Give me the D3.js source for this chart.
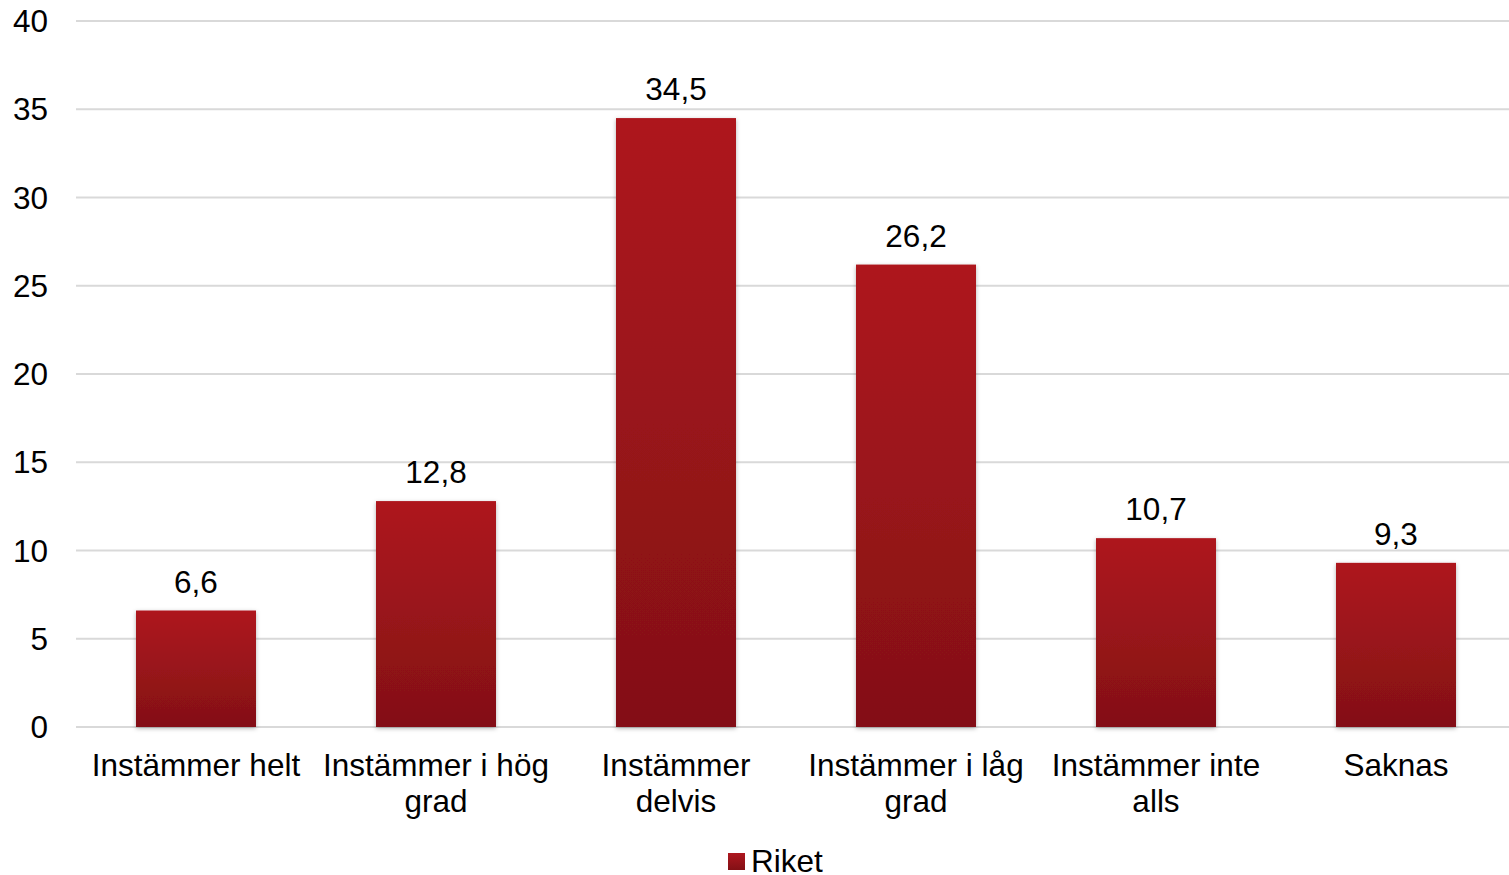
<!DOCTYPE html>
<html>
<head>
<meta charset="utf-8">
<script src="https://cdn.jsdelivr.net/npm/d3@7"></script>
<style>
  body { margin: 0; background: #fff; }
  text { font-family: "Liberation Sans", Arial, sans-serif; fill: #000; }
</style>
</head>
<body>
<svg id="chart"></svg>
<script>
var categories = [["Instämmer helt"], ["Instämmer i hög", "grad"], ["Instämmer", "delvis"], ["Instämmer i låg", "grad"], ["Instämmer inte", "alls"], ["Saknas"]];
var values = [6.6, 12.8, 34.5, 26.2, 10.7, 9.3];
var yTicks = [0, 5, 10, 15, 20, 25, 30, 35, 40];
var seriesName = "Riket";

var width = 1509, height = 875;
var plotLeft = 76, plotRight = 1516, plotTop = 21, plotBottom = 727;
var fs = 31.5;

var svg = d3.select("#chart").attr("width", width).attr("height", height);

var defs = svg.append("defs");
var grad = defs.append("linearGradient").attr("id", "barGrad")
    .attr("x1", 0).attr("y1", 0).attr("x2", 0).attr("y2", 1);
grad.append("stop").attr("offset", "0%").attr("stop-color", "#ae171f");
grad.append("stop").attr("offset", "100%").attr("stop-color", "#831015");

var shadow = defs.append("filter").attr("id", "shadow")
    .attr("x", "-10%").attr("y", "-10%").attr("width", "120%").attr("height", "120%");
shadow.append("feDropShadow").attr("dx", 0).attr("dy", 1.5).attr("stdDeviation", 2)
    .attr("flood-color", "#000").attr("flood-opacity", 0.3);

var x = d3.scaleBand().domain(d3.range(values.length)).range([plotLeft, plotRight]).paddingInner(0.5).paddingOuter(0.25);
var y = d3.scaleLinear().domain([0, 40]).range([plotBottom, plotTop]);

// gridlines
svg.append("g").selectAll("line")
    .data(yTicks)
  .enter().append("line")
    .attr("x1", plotLeft).attr("x2", width)
    .attr("y1", function(d) { return y(d); })
    .attr("y2", function(d) { return y(d); })
    .attr("stroke", "#d9d9d9").attr("stroke-width", 2);

// y axis labels
svg.append("g").selectAll("text")
    .data(yTicks)
  .enter().append("text")
    .attr("x", 48)
    .attr("y", function(d) { return y(d); })
    .attr("dy", "0.35em")
    .attr("text-anchor", "end")
    .style("font-size", fs + "px")
    .text(function(d) { return d; });

// bars
var bar = svg.append("g").selectAll("g")
    .data(values)
  .enter().append("g");

bar.append("rect")
    .attr("x", function(d, i) { return x(i); })
    .attr("y", function(d) { return y(d); })
    .attr("width", x.bandwidth())
    .attr("height", function(d) { return y(0) - y(d); })
    .attr("fill", "url(#barGrad)")
    .attr("filter", "url(#shadow)");

bar.append("text")
    .attr("x", function(d, i) { return x(i) + x.bandwidth() / 2; })
    .attr("y", function(d) { return y(d) - 29; })
    .attr("dy", "0.35em")
    .attr("text-anchor", "middle")
    .style("font-size", fs + "px")
    .text(function(d) { return String(d).replace(".", ","); });

// category labels
var cat = svg.append("g").selectAll("text")
    .data(categories)
  .enter().append("text")
    .attr("text-anchor", "middle")
    .style("font-size", fs + "px");

cat.selectAll("tspan")
    .data(function(d, i) { return d.map(function(t) { return {t: t, i: i}; }); })
  .enter().append("tspan")
    .attr("x", function(d) { return x(d.i) + x.bandwidth() / 2; })
    .attr("y", function(d, j) { return 765 + j * 36; })
    .attr("dy", "0.35em")
    .text(function(d) { return d.t; });

// legend
svg.append("rect").attr("x", 728).attr("y", 853).attr("width", 17).attr("height", 17)
    .attr("fill", "url(#barGrad)");
svg.append("text").attr("x", 751).attr("y", 861).attr("dy", "0.35em")
    .style("font-size", fs + "px").text(seriesName);
</script>
</body>
</html>
